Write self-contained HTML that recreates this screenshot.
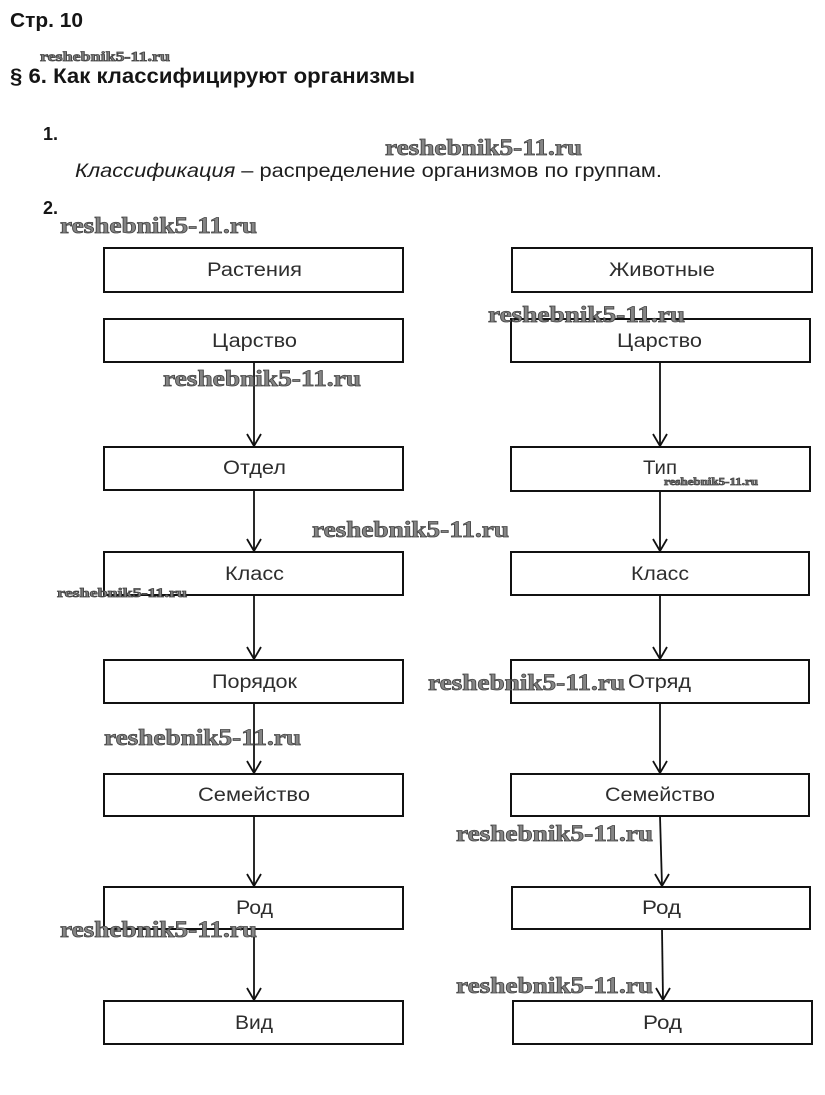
<!DOCTYPE html>
<html>
<head>
<meta charset="utf-8">
<style>
  html,body{margin:0;padding:0;background:#fff;}
  body{width:825px;height:1095px;overflow:hidden;}
  svg{display:block;}
  .h{font-family:"Liberation Sans",Arial,sans-serif;font-weight:bold;fill:#151515;}
  .t{font-family:"Liberation Sans",Arial,sans-serif;fill:#1e1e1e;}
  .lbl{font-family:"Liberation Sans",Arial,sans-serif;font-size:19px;fill:#2e2e2e;}
  .wm{font-family:"Liberation Serif","Times New Roman",serif;font-weight:bold;fill:#858585;stroke:#454545;stroke-width:0.8px;}
  .box{fill:#fff;stroke:#111;stroke-width:2;}
  .ln{stroke:#111;stroke-width:1.8;fill:none;}
</style>
</head>
<body>
<svg width="825" height="1095" viewBox="0 0 825 1095" xmlns="http://www.w3.org/2000/svg">
  <rect width="825" height="1095" fill="#fff"/>

  <!-- headings -->
  <text class="h" x="10" y="27" font-size="20" textLength="73" lengthAdjust="spacingAndGlyphs">Стр. 10</text>
  <text class="h" x="10" y="83" font-size="21.5" textLength="405" lengthAdjust="spacingAndGlyphs">§ 6. Как классифицируют организмы</text>
  <text class="h" x="43" y="140" font-size="18">1.</text>
  <text class="t" x="75" y="177" font-size="19.5" textLength="587" lengthAdjust="spacingAndGlyphs"><tspan font-style="italic">Классификация</tspan> – распределение организмов по группам.</text>
  <text class="h" x="43" y="214" font-size="18">2.</text>

  <!-- boxes left -->
  <rect class="box" x="104" y="248" width="299" height="44"/>
  <rect class="box" x="104" y="319" width="299" height="43"/>
  <rect class="box" x="104" y="447" width="299" height="43"/>
  <rect class="box" x="104" y="552" width="299" height="43"/>
  <rect class="box" x="104" y="660" width="299" height="43"/>
  <rect class="box" x="104" y="774" width="299" height="42"/>
  <rect class="box" x="104" y="887" width="299" height="42"/>
  <rect class="box" x="104" y="1001" width="299" height="43"/>

  <!-- boxes right -->
  <rect class="box" x="512" y="248" width="300" height="44"/>
  <rect class="box" x="511" y="319" width="299" height="43"/>
  <rect class="box" x="511" y="447" width="299" height="44"/>
  <rect class="box" x="511" y="552" width="298" height="43"/>
  <rect class="box" x="511" y="660" width="298" height="43"/>
  <rect class="box" x="511" y="774" width="298" height="42"/>
  <rect class="box" x="512" y="887" width="298" height="42"/>
  <rect class="box" x="513" y="1001" width="299" height="43"/>

  <!-- labels left -->
  <text class="lbl" x="207" y="276" textLength="95" lengthAdjust="spacingAndGlyphs">Растения</text>
  <text class="lbl" x="212" y="347" textLength="85" lengthAdjust="spacingAndGlyphs">Царство</text>
  <text class="lbl" x="223" y="474" textLength="63" lengthAdjust="spacingAndGlyphs">Отдел</text>
  <text class="lbl" x="225" y="580" textLength="59" lengthAdjust="spacingAndGlyphs">Класс</text>
  <text class="lbl" x="212" y="688" textLength="85" lengthAdjust="spacingAndGlyphs">Порядок</text>
  <text class="lbl" x="198" y="801" textLength="112" lengthAdjust="spacingAndGlyphs">Семейство</text>
  <text class="lbl" x="236" y="914" textLength="37" lengthAdjust="spacingAndGlyphs">Род</text>
  <text class="lbl" x="235" y="1029" textLength="38" lengthAdjust="spacingAndGlyphs">Вид</text>

  <!-- labels right -->
  <text class="lbl" x="609" y="276" textLength="106" lengthAdjust="spacingAndGlyphs">Животные</text>
  <text class="lbl" x="617" y="347" textLength="85" lengthAdjust="spacingAndGlyphs">Царство</text>
  <text class="lbl" x="643" y="474" textLength="34" lengthAdjust="spacingAndGlyphs">Тип</text>
  <text class="lbl" x="631" y="580" textLength="58" lengthAdjust="spacingAndGlyphs">Класс</text>
  <text class="lbl" x="628" y="688" textLength="63" lengthAdjust="spacingAndGlyphs">Отряд</text>
  <text class="lbl" x="605" y="801" textLength="110" lengthAdjust="spacingAndGlyphs">Семейство</text>
  <text class="lbl" x="642" y="914" textLength="39" lengthAdjust="spacingAndGlyphs">Род</text>
  <text class="lbl" x="643" y="1029" textLength="39" lengthAdjust="spacingAndGlyphs">Род</text>

  <!-- arrows left -->
  <g class="ln">
    <line x1="254" y1="362" x2="254" y2="446"/><polyline points="247,434 254,446 261,434"/>
    <line x1="254" y1="490" x2="254" y2="551"/><polyline points="247,539 254,551 261,539"/>
    <line x1="254" y1="595" x2="254" y2="659"/><polyline points="247,647 254,659 261,647"/>
    <line x1="254" y1="703" x2="254" y2="773"/><polyline points="247,761 254,773 261,761"/>
    <line x1="254" y1="816" x2="254" y2="886"/><polyline points="247,874 254,886 261,874"/>
    <line x1="254" y1="929" x2="254" y2="1000"/><polyline points="247,988 254,1000 261,988"/>
  </g>
  <!-- arrows right -->
  <g class="ln">
    <line x1="660" y1="362" x2="660" y2="446"/><polyline points="653,434 660,446 667,434"/>
    <line x1="660" y1="491" x2="660" y2="551"/><polyline points="653,539 660,551 667,539"/>
    <line x1="660" y1="595" x2="660" y2="659"/><polyline points="653,647 660,659 667,647"/>
    <line x1="660" y1="703" x2="660" y2="773"/><polyline points="653,761 660,773 667,761"/>
    <line x1="660" y1="816" x2="662" y2="886"/><polyline points="655,874 662,886 669,874"/>
    <line x1="662" y1="929" x2="663" y2="1000"/><polyline points="656,988 663,1000 670,988"/>
  </g>

  <!-- watermarks -->
  <text class="wm" x="40" y="61" font-size="14" textLength="130" lengthAdjust="spacingAndGlyphs">reshebnik5-11.ru</text>
  <text class="wm" x="385" y="155" font-size="23" textLength="197" lengthAdjust="spacingAndGlyphs">reshebnik5-11.ru</text>
  <text class="wm" x="60" y="233" font-size="23" textLength="197" lengthAdjust="spacingAndGlyphs">reshebnik5-11.ru</text>
  <text class="wm" x="488" y="322" font-size="23" textLength="197" lengthAdjust="spacingAndGlyphs">reshebnik5-11.ru</text>
  <text class="wm" x="163" y="386" font-size="23" textLength="198" lengthAdjust="spacingAndGlyphs">reshebnik5-11.ru</text>
  <text class="wm" x="664" y="485" font-size="11" textLength="94" lengthAdjust="spacingAndGlyphs">reshebnik5-11.ru</text>
  <text class="wm" x="312" y="537" font-size="23" textLength="197" lengthAdjust="spacingAndGlyphs">reshebnik5-11.ru</text>
  <text class="wm" x="57" y="597" font-size="13" textLength="130" lengthAdjust="spacingAndGlyphs">reshebnik5-11.ru</text>
  <text class="wm" x="428" y="690" font-size="23" textLength="197" lengthAdjust="spacingAndGlyphs">reshebnik5-11.ru</text>
  <text class="wm" x="104" y="745" font-size="23" textLength="197" lengthAdjust="spacingAndGlyphs">reshebnik5-11.ru</text>
  <text class="wm" x="456" y="841" font-size="23" textLength="197" lengthAdjust="spacingAndGlyphs">reshebnik5-11.ru</text>
  <text class="wm" x="60" y="937" font-size="23" textLength="197" lengthAdjust="spacingAndGlyphs">reshebnik5-11.ru</text>
  <text class="wm" x="456" y="993" font-size="23" textLength="197" lengthAdjust="spacingAndGlyphs">reshebnik5-11.ru</text>
</svg>
</body>
</html>
